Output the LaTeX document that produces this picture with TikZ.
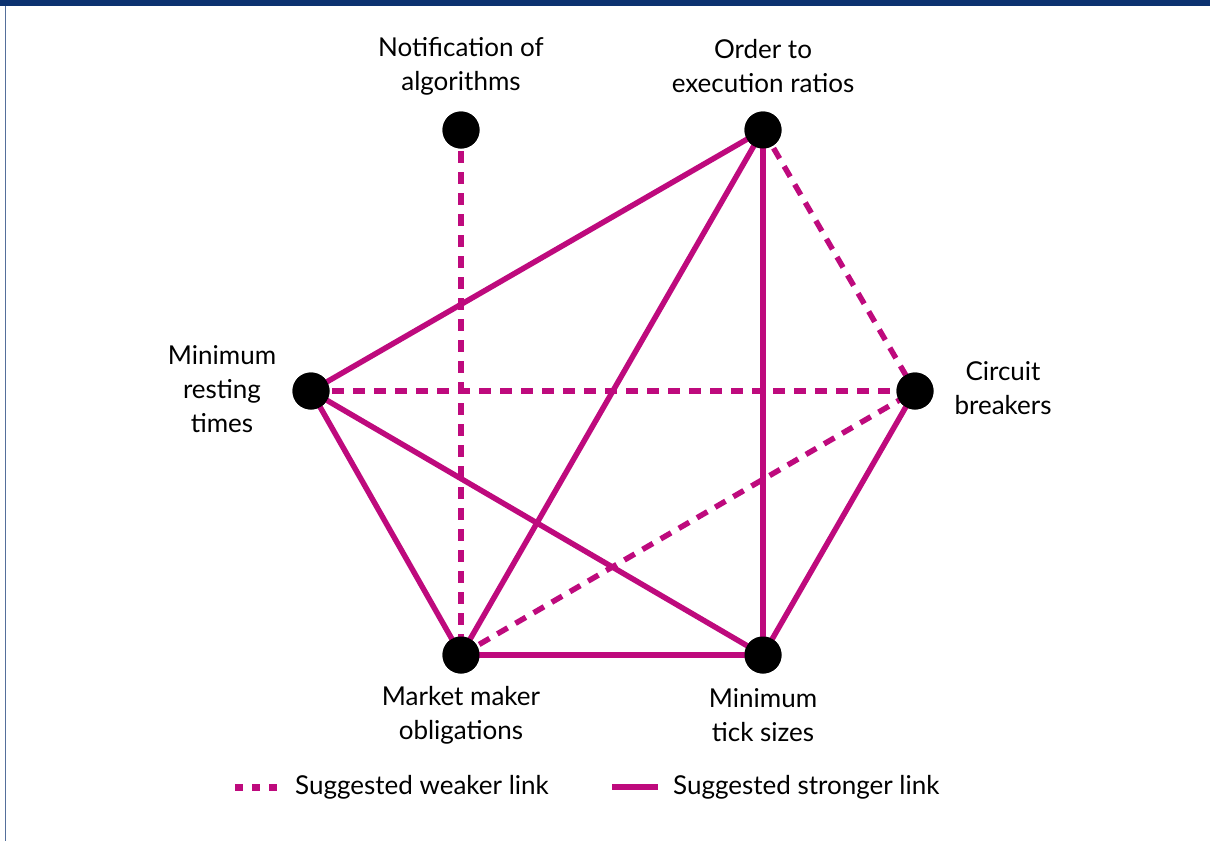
\documentclass[tikz,border=0pt]{standalone}
\usepackage{fontspec}
\setmainfont{Lato}
\usepackage{tikz}
\definecolor{navy}{RGB}{12,50,112}
\definecolor{linkpink}{RGB}{190,10,125}
\tikzset{
	pt/.style={circle,fill=black,inner sep=0pt,minimum size=37pt},
	lab/.style={align=center,font=\fontsize{26}{34}\selectfont,inner sep=0pt},
	strong/.style={linkpink,line width=5.5pt},
	weak/.style={linkpink,line width=5.5pt,dash pattern=on 12pt off 9pt},
}

\begin{document}
\begin{tikzpicture}[x=1pt,y=-1pt]
\useasboundingbox (0,0) rectangle (1210,841);
\fill[navy] (0,0) rectangle (1210,6); %
\draw[navy!70,line width=1.5pt] (5.5,6) -- (5.5,841);
% points
\node[pt] (notif) at (461,130) {};
\node[pt] (order) at (763,130) {};
\node[pt] (rest) at (311,391) {};
\node[pt] (circ) at (915,391) {};
\node[pt] (mm) at (461,655) {};
\node[pt] (tick) at (763,655) {};
% links
\draw[weak] (notif.center) -- (mm.center);
\draw[weak] (order.center) -- (circ.center);
\draw[weak] (rest.center) -- (circ.center);
\draw[weak] (mm.center) -- (circ.center);
\foreach \a/\b in {order/rest,order/mm,order/tick,circ/tick,rest/mm,rest/tick,mm/tick}
{
	\draw[strong] (\a.center) -- (\b.center);
}
\foreach \n in {notif,order,rest,circ,mm,tick}
	\fill (\n) circle (18.5pt);
% labels
\node[lab] (lnotif) at (461,66) {Notification of\\algorithms};
\node[lab] (lorder) at (763,66) {Order to\\execution ratios};
\node[lab] (lrest) at (222,389) {Minimum\\resting\\times};
\node[lab] (lcirc) at (1003,388) {Circuit\\breakers};
\node[lab] (lmm) at (461,715) {Market maker\\obligations};
\node[lab] (ltick) at (763,715) {Minimum\\tick sizes};
% legend
\coordinate (w1) at (235,787);
\coordinate (w2) at (277,787);
\coordinate (s1) at (612,787);
\coordinate (s2) at (658,787);
\draw[linkpink,line width=7pt,dash pattern=on 8pt off 9pt] (w1) -- (w2);
\draw[linkpink,line width=6pt] (s1) -- (s2);
\node[lab,anchor=west] (lweak) at (295,787) {Suggested weaker link};
\node[lab,anchor=west] (lstrong) at (673,787) {Suggested stronger link};
\end{tikzpicture}
\end{document}
